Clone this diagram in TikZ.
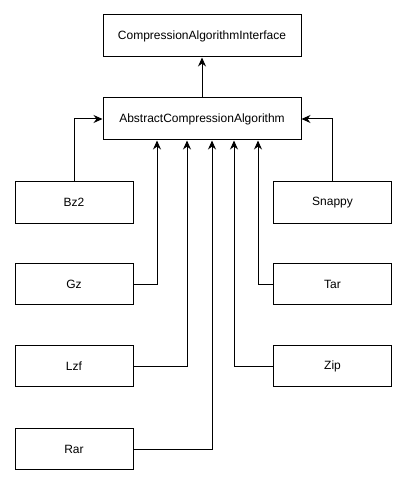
\documentclass[tikz,border=0pt]{standalone}
\usepackage{fontspec}
\setmainfont{Liberation Sans}
\usetikzlibrary{arrows.meta}

\tikzset{
  klasse/.style={draw, line width=1pt, minimum width=118pt, minimum height=41pt,
    inner sep=0pt, font=\fontsize{12}{14}\selectfont},
  oberklasse/.style={klasse, minimum width=198pt, minimum height=42pt},
  erbt/.style={-{Stealth[length=9pt,width=8pt]}, line width=1pt}
}

\begin{document}
\begin{tikzpicture}[x=1pt,y=-1pt]
	\useasboundingbox (0,0) rectangle (407,486);
	\node[oberklasse] (iface) at (202,36) {CompressionAlgorithmInterface};
	\node[oberklasse] (abstract) at (202,119) {AbstractCompressionAlgorithm};
	\node[klasse] (bz2) at (74,202.5) {Bz2};
	\node[klasse] (gz) at (74,284) {Gz};
	\node[klasse] (lzf) at (74,366) {Lzf};
	\node[klasse] (rar) at (74,449) {Rar};
	\node[klasse] (snappy) at (332.5,202.5) {Snappy};
	\node[klasse] (tar) at (332.5,284) {Tar};
	\node[klasse] (zip) at (332.5,366) {Zip};
	\draw[erbt] (abstract) -- (iface);
	\draw[erbt] (bz2.north) |- (abstract.west);
	\draw[erbt] (snappy.north) |- (abstract.east);
	\draw[erbt] (gz.east) -| ([xshift=-45pt]abstract.south);
	\draw[erbt] (lzf.east) -| ([xshift=-15pt]abstract.south);
	\draw[erbt] (rar.east) -| ([xshift=10pt]abstract.south);
	\draw[erbt] (zip.west) -| ([xshift=32pt]abstract.south);
	\draw[erbt] (tar.west) -| ([xshift=56pt]abstract.south);
\end{tikzpicture}
\end{document}
